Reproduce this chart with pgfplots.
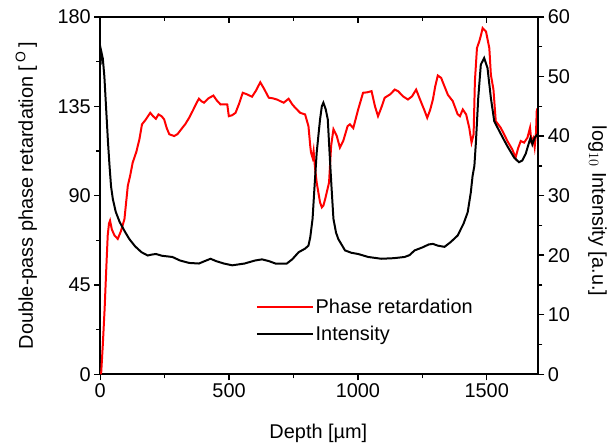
\documentclass[border=0pt]{standalone}
\usepackage{fontspec}
\setmainfont{Liberation Sans}
\usepackage{pgfplots}
\pgfplotsset{compat=1.18}
\usetikzlibrary{calc}
\pgfplotsset{
  base/.style={
    scale only axis, width=440bp, height=359bp,
    xmin=0, xmax=1700,
    tick label style={font=\fontsize{20bp}{23bp}\selectfont},
    /pgf/number format/assume math mode=true,
    /pgf/number format/set thousands separator={},
    axis line style={line width=1.8bp},
    major tick length=6bp, minor tick length=4bp,
    every tick/.style={line width=1.5bp, black},
    scaled ticks=false,
  }
}
\begin{document}
\begin{tikzpicture}
\begin{axis}[base, name=ax,
  ymin=0, ymax=180,
  ytick={0,45,90,135,180}, minor ytick={22.5,67.5,112.5,157.5},
  xtick={0,500,1000,1500}, minor xtick={250,750,1250},
  tick align=outside, xtick pos=lower, ytick pos=left,
  ylabel={Double-pass phase retardation [\,\textsuperscript{O}\,]},
  xlabel={Depth [\textmu m]},
  every axis y label/.style={at={(axis description cs:-0.169,0.5)}, rotate=90, anchor=center, font=\fontsize{20bp}{23bp}\selectfont},
  every axis x label/.style={at={(axis description cs:0.498,-0.164)}, anchor=center, font=\fontsize{20bp}{23bp}\selectfont},
  legend style={draw=none, fill=none, at={(0.355,0.218)}, anchor=north west,
    font=\fontsize{20bp}{23bp}\selectfont, row sep=8bp, inner sep=0pt},
  legend cell align=left,
  legend image code/.code={\draw[#1] (0bp,0bp) -- (56bp,0bp);},
]
\addlegendimage{red, line width=2bp}
\addlegendentry{Phase retardation}
\addlegendimage{black, line width=2bp}
\addlegendentry{Intensity}
\addplot[red, line width=2bp, forget plot] coordinates {
(2,0) (4,1.5) (10,15) (17,33) (23,52) (29,70) (34,76) (38,77.4) (45,73) (55,70) (68,68.2) (80,72) (94,78.2)
(100,86) (107,95) (116,100) (126,106.7) (140,112) (152,118.4) (162,125.9) (175,128) (194,131.7)
(205,130) (216,128.7) (226,130.9) (238,130) (248,128.4) (258,124) (268,120.9) (287,120) (300,121)
(319,124.2) (330,126) (345,129.2) (360,133) (375,137) (383,138.8) (393,137.5) (403,136.8) (420,139)
(439,140.4) (452,138) (467,135.9) (480,136) (493,135.9) (499,130) (512,130.5) (525,131.7) (538,136)
(553,141.8) (570,141) (589,139.8) (605,143) (621,147.1) (635,144) (654,139.3) (670,139) (686,138.4)
(700,137.5) (712,136.8) (731,138.8) (745,136) (757,134.2) (776,131.7) (795,130.9) (808,125) (815,115)
(818,111.7) (824,109.1) (828,112.5) (834,103.3) (840,96.6) (853,86.6) (860,84.1) (866,85) (873,88.3)
(888,96.6) (896,115) (905,123.4) (918,120) (930,114.2) (943,117.5) (960,125) (969,125.9) (982,124)
(1001,133.4) (1020,141.8) (1035,142) (1053,142.6) (1066,135.1) (1078,130) (1090,134) (1104,139.3)
(1125,141) (1143,143.4) (1156,142.6) (1175,140) (1194,138.4) (1210,140) (1226,143.4) (1246,136.8)
(1258,133) (1269,129.2) (1280,133) (1291,138.4) (1300,145) (1310,150.5) (1323,149.3) (1336,145)
(1349,140.8) (1368,137.6) (1387,131) (1396,130) (1407,133.4) (1420,130.9) (1432,124.2) (1441,116.7)
(1449,120.9) (1454,147.6) (1462,164.3) (1471,167.7) (1478,171) (1484,174.4) (1497,172.7) (1510,164.3)
(1516,150.9) (1526,143.4) (1535,127.5) (1554,124.2) (1567,121) (1580,117.5) (1599,113.3) (1612,109.2)
(1622,114) (1632,117.5) (1645,116.7) (1658,119.2) (1668,124.2) (1673,117.5) (1681,119.2) (1686,114.5)
(1691,121) (1694,132.5) (1697,134)
};
\end{axis}
\begin{axis}[base,
  ymin=0, ymax=60,
  axis x line=none, axis y line*=right,
  ytick={0,10,...,60}, minor ytick={5,15,...,55},
  tick align=outside,
  ylabel={log$_{10}$ Intensity [a.u.]},
  every axis y label/.style={at={(axis description cs:1.135,0.457)}, rotate=-90, anchor=center, font=\fontsize{20bp}{23bp}\selectfont},
]
\addplot[black, line width=2bp] coordinates {
(1,52) (4,54.2) (10,53) (16,50) (23,44.5) (30,39) (36,35) (42,31.5) (49,29.4) (60,27.3) (75,25.6)
(95,24) (113,22.7) (135,21.5) (160,20.5) (184,19.95) (200,20.1) (216,20.2) (240,19.9) (280,19.7)
(310,19.1) (345,18.7) (383,18.6) (405,19) (428,19.4) (450,19) (480,18.6) (512,18.3) (560,18.6)
(600,19.1) (628,19.3) (655,19) (680,18.6) (724,18.6) (745,19.3) (770,20.5) (795,21.1) (808,21.6)
(815,23) (824,26.1) (831,31.1) (840,37.2) (853,42.8) (860,45) (866,45.6) (875,44.5) (883,42.8)
(892,35.6) (898,31.1) (905,26.1) (915,23.8) (924,22.7) (950,20.8) (975,20.4) (1001,20.2) (1040,19.7)
(1091,19.4) (1140,19.5) (1181,19.7) (1200,20) (1220,20.8) (1250,21.3) (1275,21.8) (1291,21.9)
(1310,21.6) (1336,21.4) (1360,22.2) (1387,23.3) (1410,25.3) (1426,27.2) (1438,30.5) (1445,33.3)
(1452,35) (1458,39) (1467,46.4) (1477,52) (1490,53.1) (1503,51.4) (1516,46.4) (1529,42.5) (1548,40.9)
(1565,39.5) (1580,38.3) (1606,36.4) (1625,35.6) (1638,35.9) (1651,37) (1664,38.9) (1670,39.7)
(1677,38.6) (1686,39.7) (1697,40.3)
};
\end{axis}
\begin{axis}[base,
  ymin=0, ymax=1,
  axis y line=none, axis x line*=top,
  xtick={0,500,1000,1500}, minor xtick={250,750,1250},
  xticklabels={}, tick align=inside,
]
\end{axis}
\path[use as bounding box] ($(ax.south west)+(-100.7bp,-73bp)$) rectangle ($(ax.north east)+(69.3bp,17bp)$);
\end{tikzpicture}
\end{document}
